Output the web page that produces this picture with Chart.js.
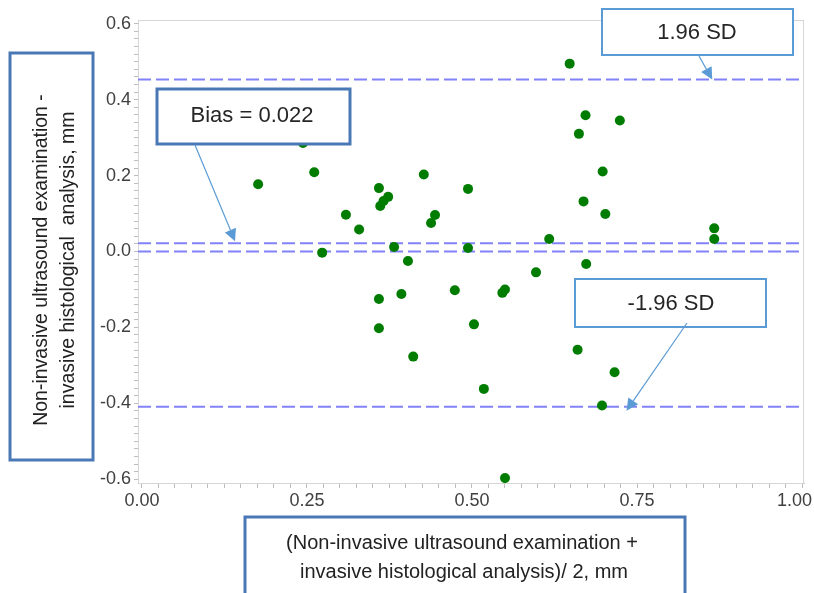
<!DOCTYPE html>
<html>
<head>
<meta charset="utf-8">
<script src="https://cdn.jsdelivr.net/npm/chart.js@4.4.1/dist/chart.umd.min.js"></script>
<style>
  html, body { margin: 0; padding: 0; background: #fff; }
  canvas { display: block; }
</style>
</head>
<body>
<canvas id="chart" width="814" height="593"></canvas>
<script>
// mean of the two methods (x) and their difference (y)
const meanValues = [0.176, 0.244, 0.261, 0.273, 0.309, 0.329, 0.359, 0.373, 0.366, 0.361,
  0.359, 0.359, 0.382, 0.393, 0.403, 0.411, 0.427, 0.438, 0.444, 0.474,
  0.494, 0.494, 0.503, 0.518, 0.546, 0.550, 0.550, 0.597, 0.617, 0.648,
  0.662, 0.660, 0.669, 0.672, 0.673, 0.698, 0.702, 0.697, 0.716, 0.724,
  0.867, 0.867];
const diffValues = [0.177, 0.286, 0.209, -0.003, 0.097, 0.058, 0.167, 0.144, 0.133, 0.120,
  -0.125, -0.202, 0.012, -0.112, -0.025, -0.277, 0.203, 0.075, 0.096, -0.102,
  0.165, 0.009, -0.192, -0.362, -0.109, -0.100, -0.597, -0.055, 0.033, 0.495,
  0.310, -0.259, 0.132, 0.359, -0.033, 0.211, 0.099, -0.406, -0.318, 0.345,
  0.061, 0.033];

const bias = 0.022;
const upperLimit = 0.453;
const lowerLimit = -0.409;
const zeroLine = 0;

const xMin = -0.006, xMax = 1.003;
const yMin = -0.61, yMax = 0.61;

// minor ticks every 0.025 (x) and 0.02 (y), labels only on the major ones
const xTicks = [];
for (let i = 0; i <= 40; i++) xTicks.push(i * 0.025);
const yTicks = [];
for (let i = -30; i <= 30; i++) yTicks.push(i * 0.02);

const yTitle = ['Non-invasive ultrasound examination -', 'invasive histological  analysis, mm'];
const xTitle = ['(Non-invasive ultrasound examination +', 'invasive histological analysis)/ 2, mm'];

const points = meanValues.map((m, i) => ({ x: m, y: diffValues[i] }));

function hline(v) {
  return {
    data: [{ x: xMin, y: v }, { x: xMax, y: v }],
    showLine: true,
    borderColor: '#8282f8',
    borderWidth: 2,
    borderDash: [13, 5],
    pointRadius: 0,
    order: 1
  };
}

function drawArrow(ctx, x1, y1, x2, y2) {
  const ang = Math.atan2(y2 - y1, x2 - x1);
  const len = 12, half = 6;
  const bx = x2 - len * Math.cos(ang), by = y2 - len * Math.sin(ang);
  ctx.strokeStyle = '#5b9bd5';
  ctx.fillStyle = '#5b9bd5';
  ctx.lineWidth = 1.2;
  ctx.beginPath();
  ctx.moveTo(x1, y1);
  ctx.lineTo(bx, by);
  ctx.stroke();
  ctx.beginPath();
  ctx.moveTo(x2, y2);
  ctx.lineTo(bx + half * Math.sin(ang), by - half * Math.cos(ang));
  ctx.lineTo(bx - half * Math.sin(ang), by + half * Math.cos(ang));
  ctx.closePath();
  ctx.fill();
}

function drawBox(ctx, x, y, w, h, color, lw) {
  ctx.fillStyle = '#fff';
  ctx.fillRect(x, y, w, h);
  ctx.strokeStyle = color;
  ctx.lineWidth = lw;
  ctx.strokeRect(x, y, w, h);
}

const overlay = {
  id: 'overlay',
  beforeDatasetsDraw(chart) {
    const ctx = chart.ctx, a = chart.chartArea;
    ctx.save();
    ctx.strokeStyle = '#d6d6d6';
    ctx.lineWidth = 1;
    ctx.strokeRect(a.left + 0.5, a.top + 0.5, a.right - a.left - 1, a.bottom - a.top);
    ctx.restore();
  },
  afterDraw(chart) {
    const ctx = chart.ctx;
    const sx = chart.scales.x, sy = chart.scales.y;
    ctx.save();
    ctx.textAlign = 'center';
    ctx.textBaseline = 'middle';

    // 1.96 SD
    drawBox(ctx, 602, 9, 191, 46, '#5b9bd5', 2);
    ctx.fillStyle = '#262626';
    ctx.font = '22px "Liberation Sans", Arial, sans-serif';
    ctx.fillText('1.96 SD', 697, 33);
    drawArrow(ctx, 699, 56, sx.getPixelForValue(0.864), sy.getPixelForValue(upperLimit));

    // Bias
    drawBox(ctx, 157, 89, 193, 55, '#4a78b6', 3);
    ctx.fillStyle = '#262626';
    ctx.fillText('Bias = 0.022', 252, 116);
    drawArrow(ctx, 195, 145, sx.getPixelForValue(0.141), sy.getPixelForValue(bias) - 2);

    // -1.96 SD
    drawBox(ctx, 575, 279, 191, 48, '#5b9bd5', 2);
    ctx.fillStyle = '#262626';
    ctx.fillText('-1.96 SD', 671, 304);
    drawArrow(ctx, 687, 323, sx.getPixelForValue(0.734), sy.getPixelForValue(lowerLimit) + 4);

    // y axis title box
    drawBox(ctx, 10, 53, 83, 407, '#4a78b6', 3);
    ctx.save();
    ctx.translate(55, 260);
    ctx.rotate(-Math.PI / 2);
    ctx.fillStyle = '#222';
    ctx.font = '19.5px "Liberation Sans", Arial, sans-serif';
    ctx.fillText(yTitle[0], 0, -13);
    ctx.fillText(yTitle[1], 0, 14);
    ctx.restore();

    // x axis title box
    drawBox(ctx, 245, 517, 440, 90, '#4a78b6', 3);
    ctx.fillStyle = '#222';
    ctx.font = '20px "Liberation Sans", Arial, sans-serif';
    ctx.fillText(xTitle[0], 462, 543);
    ctx.fillText(xTitle[1], 464, 572);
    ctx.restore();
  }
};

new Chart(document.getElementById('chart'), {
  type: 'scatter',
  data: {
    datasets: [
      {
        data: points,
        backgroundColor: '#007d00',
        borderColor: '#007d00',
        pointRadius: 5,
        pointBorderWidth: 0,
        order: 0
      },
      hline(upperLimit),
      hline(bias),
      hline(zeroLine),
      hline(lowerLimit)
    ]
  },
  options: {
    responsive: false,
    animation: false,
    devicePixelRatio: 1,
    layout: { padding: { top: 20, right: 10, left: 0, bottom: 0 } },
    plugins: { legend: { display: false }, tooltip: { enabled: false } },
    scales: {
      x: {
        type: 'linear',
        min: xMin,
        max: xMax,
        afterBuildTicks: (scale) => { scale.ticks = xTicks.map(v => ({ value: v })); },
        afterFit: (scale) => {
          scale.height = 110;
          scale.paddingLeft = 0;
          scale.paddingRight = 0;
        },
        grid: { drawOnChartArea: false, drawTicks: true, tickLength: 5, color: '#bdbdbd' },
        border: { color: '#c4c4c4', width: 1 },
        ticks: {
          autoSkip: false,
          maxRotation: 0,
          padding: 2,
          color: '#404040',
          font: { family: '"Liberation Sans", Arial, sans-serif', size: 18 },
          callback: (v) => {
            const r = Math.round(v * 1000);
            if (r % 250 !== 0) return '';
            // last label sits pulled in, as in the original
            return r === 1000 ? '1.00\u00a0\u00a0\u00a0' : (r / 1000).toFixed(2);
          }
        }
      },
      y: {
        type: 'linear',
        min: yMin,
        max: yMax,
        afterBuildTicks: (scale) => { scale.ticks = yTicks.map(v => ({ value: v })); },
        afterFit: (scale) => {
          scale.width = 138;
          scale.paddingTop = 0;
          scale.paddingBottom = 0;
        },
        grid: { drawOnChartArea: false, drawTicks: true, tickLength: 4, color: '#bdbdbd' },
        border: { color: '#c4c4c4', width: 1 },
        ticks: {
          autoSkip: false,
          padding: 3,
          color: '#404040',
          font: { family: '"Liberation Sans", Arial, sans-serif', size: 18 },
          callback: (v) => {
            const r = Math.round(v * 100);
            return r % 20 === 0 ? (r / 100).toFixed(1) : '';
          }
        }
      }
    }
  },
  plugins: [overlay]
});
</script>
</body>
</html>
